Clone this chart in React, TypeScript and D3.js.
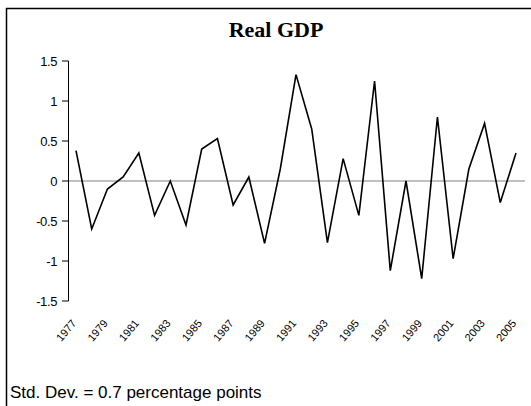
import React from 'react';
import * as d3 from 'd3';

const years = [
  1977, 1978, 1979, 1980, 1981, 1982, 1983, 1984, 1985, 1986,
  1987, 1988, 1989, 1990, 1991, 1992, 1993, 1994, 1995, 1996,
  1997, 1998, 1999, 2000, 2001, 2002, 2003, 2004, 2005,
];
const gdp = [
  0.38, -0.6, -0.1, 0.05, 0.35, -0.43, 0, -0.55, 0.4, 0.53,
  -0.3, 0.05, -0.78, 0.15, 1.33, 0.65, -0.77, 0.28, -0.43, 1.25,
  -1.12, 0, -1.22, 0.8, -0.97, 0.15, 0.72, -0.27, 0.35,
];
const yTicks = [-1.5, -1, -0.5, 0, 0.5, 1, 1.5];
const tickLabels = ['-1.5', '-1', '-0.5', '0', '0.5', '1', '1.5'];

const W = 531;
const H = 406;
const sans = "'Liberation Sans', Arial, sans-serif";

export default function App() {
  // plot area
  const left = 68;
  const x = d3.scaleLinear().domain([0, years.length - 1]).range([76, 516]);
  const y = d3.scaleLinear().domain([-1.5, 1.5]).range([301, 61]);

  const line = d3.line<number>()
    .x((_, i) => x(i))
    .y(d => y(d));

  return (
    <div style={{ position: 'fixed', top: 0, left: 0 }}>
      <svg width={W} height={H} style={{ display: 'block', background: '#fff' }}>
        <rect x={6.5} y={8.5} width={W + 10} height={H + 10} fill="none" stroke="#000" strokeWidth={1.5} />

        <text x={276} y={37} textAnchor="middle" fontFamily="'Liberation Serif', 'Times New Roman', serif"
          fontWeight="bold" fontSize={22}>Real GDP</text>

        {/* zero line */}
        <line x1={left} x2={525} y1={y(0)} y2={y(0)} stroke="#808080" strokeWidth={1} />

        {/* y axis */}
        <line x1={left + 0.5} x2={left + 0.5} y1={y(1.5)} y2={y(-1.5)} stroke="#000" strokeWidth={1} />
        {yTicks.map((t, i) => (
          <g key={t}>
            <line x1={left - 6} x2={left + 0.5} y1={y(t)} y2={y(t)} stroke="#000" strokeWidth={1} />
            <text x={57} y={y(t) + 4.5} textAnchor="end" fontFamily={sans}
              fontSize={13} letterSpacing={-0.4}>{tickLabels[i]}</text>
          </g>
        ))}

        {/* x labels every other year */}
        {years.map((yr, i) => i % 2 === 0 ? (
          <text key={yr} transform={`translate(${x(i) - 2},${321}) rotate(-50)`} textAnchor="end" dy="0.35em"
            fontFamily={sans} fontSize={11}>{yr}</text>
        ) : null)}

        <path d={line(gdp) || ''} fill="none" stroke="#000" strokeWidth={1.6} strokeLinejoin="miter" />

        <text x={10} y={398} fontFamily={sans} fontSize={17}>Std. Dev. = 0.7 percentage points</text>
      </svg>
    </div>
  );
}
